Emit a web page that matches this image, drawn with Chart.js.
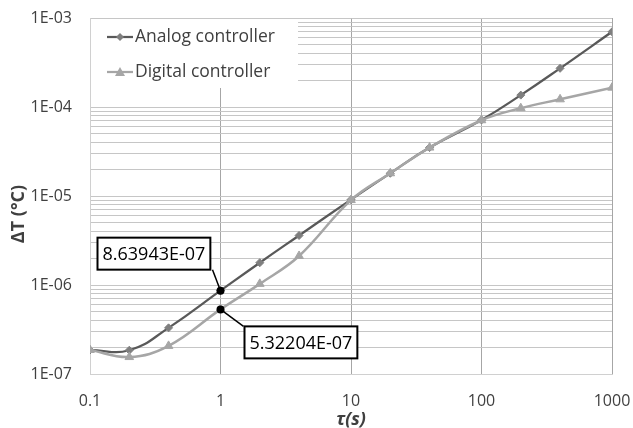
<!DOCTYPE html>
<html>
<head>
<meta charset="utf-8">
<script src="https://cdn.jsdelivr.net/npm/chart.js@4.4.1/dist/chart.umd.min.js"></script>
<style>
  html, body { margin: 0; padding: 0; background: #fff; }
  #wrap { width: 633px; height: 428px; }
</style>
</head>
<body>
<div id="wrap"><canvas id="tauChart"></canvas></div>
<script>
// values (tau in seconds, delta T in degC)
const tau = [0.1, 0.2, 0.4, 1, 2, 4, 10, 20, 40, 100, 200, 400, 1000];
const analog = [1.86e-7, 1.85e-7, 3.3e-7, 8.63943e-7, 1.78e-6, 3.6e-6, 9.1e-6, 1.8e-5, 3.5e-5, 7.15e-5, 1.36e-4, 2.72e-4, 7.0e-4];
const digital = [1.86e-7, 1.55e-7, 2.07e-7, 5.32204e-7, 1.03e-6, 2.12e-6, 9.0e-6, 1.8e-5, 3.5e-5, 7.1e-5, 9.7e-5, 1.22e-4, 1.65e-4];
const seriesNames = ["Analog controller", "Digital controller"];
const xTicks = [0.1, 1, 10, 100, 1000];
const yTicks = [1e-7, 1e-6, 1e-5, 1e-4, 1e-3];
const calloutIndex = 3;

const FONT = "'Open Sans', sans-serif";
const TEXT = "#404040";
const ANALOG_LINE = "#595959";
const ANALOG_MARK = "#7f7f7f";
const DIGITAL = "#a6a6a6";

const isDecade = (v) => {
    const e = Math.log10(v);
    return Math.abs(e - Math.round(e)) < 1e-6;
};
const fmtE = (v) => {
    const e = Math.round(Math.log10(v));
    return "1E" + (e < 0 ? "-" : "+") + String(Math.abs(e)).padStart(2, "0");
};

const toPoints = (ys) => tau.map((t, i) => ({ x: t, y: ys[i] }));

const drawMarker = (ctx, style, x, y, r, color) => {
    ctx.beginPath();
    if (style === "rectRot") {
        ctx.moveTo(x, y - r);
        ctx.lineTo(x + r, y);
        ctx.lineTo(x, y + r);
        ctx.lineTo(x - r, y);
    } else {
        ctx.moveTo(x, y - r);
        ctx.lineTo(x + r, y + r * 0.8);
        ctx.lineTo(x - r, y + r * 0.8);
    }
    ctx.closePath();
    ctx.fillStyle = color;
    ctx.fill();
};

// legend box in the upper left corner of the plot
const legendBox = {
    id: "legendBox",
    afterDraw(chart) {
        const { ctx, chartArea } = chart;
        const x0 = chartArea.left, y0 = chartArea.top;
        ctx.save();
        ctx.fillStyle = "#fff";
        ctx.fillRect(x0 + 1, y0 + 1, 207, 69);
        const rows = [
            { name: seriesNames[0], line: ANALOG_LINE, mark: ANALOG_MARK, style: "rectRot", r: 4 },
            { name: seriesNames[1], line: DIGITAL, mark: DIGITAL, style: "triangle", r: 5 }
        ];
        rows.forEach((row, i) => {
            const y = y0 + 19 + i * 35;
            ctx.strokeStyle = row.line;
            ctx.lineWidth = 2.25;
            ctx.beginPath();
            ctx.moveTo(x0 + 17, y);
            ctx.lineTo(x0 + 43, y);
            ctx.stroke();
            drawMarker(ctx, row.style, x0 + 30, y, row.r, row.mark);
            ctx.fillStyle = TEXT;
            ctx.font = "17.5px " + FONT;
            ctx.textBaseline = "middle";
            ctx.textAlign = "left";
            ctx.fillText(row.name, x0 + 45, y);
        });
        ctx.restore();
    }
};

// callout boxes for the values at tau = 1 s, plus the y axis title
const callouts = {
    id: "callouts",
    afterDraw(chart) {
        const { ctx, scales } = chart;
        const px = scales.x.getPixelForValue(tau[calloutIndex]);
        const items = [
            { v: analog[calloutIndex], dx: -123, dy: -53, lx: -8, ly: -21 },
            { v: digital[calloutIndex], dx: 24, dy: 17, lx: 23, ly: 17 }
        ];
        ctx.save();
        ctx.font = "18px " + FONT;
        items.forEach((it) => {
            const py = scales.y.getPixelForValue(it.v);
            const label = it.v.toExponential(5).toUpperCase().replace(/E([+-])(\d)$/, "E$10$2");
            const w = ctx.measureText(label).width + 10;
            const h = 32;
            ctx.strokeStyle = "#000";
            ctx.lineWidth = 1.5;
            ctx.beginPath();
            ctx.moveTo(px, py);
            ctx.lineTo(px + it.lx, py + it.ly);
            ctx.stroke();
            ctx.fillStyle = "#fff";
            ctx.fillRect(px + it.dx, py + it.dy, w, h);
            ctx.lineWidth = 2;
            ctx.strokeRect(px + it.dx, py + it.dy, w, h);
            ctx.fillStyle = "#000";
            ctx.textAlign = "left";
            ctx.textBaseline = "middle";
            ctx.fillText(label, px + it.dx + 5, py + it.dy + h / 2 + 1);
            ctx.beginPath();
            ctx.arc(px, py, 4, 0, Math.PI * 2);
            ctx.fill();
        });
        // y title, centred a little below the plot middle like the original
        ctx.translate(19, 214);
        ctx.rotate(-Math.PI / 2);
        ctx.font = "bold 18px " + FONT;
        ctx.fillStyle = TEXT;
        ctx.textAlign = "center";
        ctx.textBaseline = "middle";
        ctx.fillText("ΔT (°C)", 0, 0);
        ctx.restore();
    }
};

new Chart(document.getElementById("tauChart"), {
    type: "line",
    data: {
        datasets: [{
            label: seriesNames[0],
            data: toPoints(analog),
            borderColor: ANALOG_LINE,
            borderWidth: 2.25,
            pointStyle: "rectRot",
            pointRadius: 4,
            pointBackgroundColor: ANALOG_MARK,
            pointBorderColor: ANALOG_MARK,
            pointBorderWidth: 1,
            tension: 0.45,
            order: 1
        }, {
            label: seriesNames[1],
            data: toPoints(digital),
            borderColor: DIGITAL,
            borderWidth: 2.5,
            pointStyle: "triangle",
            pointRadius: 5,
            pointBackgroundColor: DIGITAL,
            pointBorderColor: DIGITAL,
            pointBorderWidth: 1,
            tension: 0.4,
            order: 0
        }]
    },
    options: {
        responsive: true,
        maintainAspectRatio: false,
        animation: false,
        events: [],
        layout: { padding: { top: 18, right: 21, left: 0, bottom: 0 } },
        plugins: {
            legend: { display: false },
            tooltip: { enabled: false }
        },
        scales: {
            x: {
                type: "logarithmic",
                min: xTicks[0],
                max: xTicks[xTicks.length - 1],
                afterBuildTicks: (scale) => { scale.ticks = xTicks.map(v => ({ value: v })); },
                afterFit: (scale) => {
                    scale.height = 54;
                    scale.paddingLeft = 0;
                    scale.paddingRight = 0;
                },
                grid: {
                    color: (c) => c.index === 0 ? "#d9d9d9" : "#a6a6a6",
                    drawTicks: false
                },
                border: { color: "#d0d0d0" },
                ticks: {
                    autoSkip: false,
                    maxRotation: 0,
                    padding: 18,
                    color: TEXT,
                    font: { family: FONT, size: 16 },
                    callback: (v) => String(v)
                },
                title: {
                    display: true,
                    text: "τ(s)",
                    color: TEXT,
                    font: { family: FONT, size: 18, weight: "bold", style: "italic" },
                    padding: { top: 0, bottom: -3 }
                }
            },
            y: {
                type: "logarithmic",
                min: yTicks[0],
                max: yTicks[yTicks.length - 1],
                afterBuildTicks: (scale) => {
                    const ticks = [];
                    yTicks.forEach((d, i) => {
                        if (i === yTicks.length - 1) { ticks.push({ value: d }); return; }
                        for (let m = 1; m < 10; m++) ticks.push({ value: m * d });
                    });
                    scale.ticks = ticks;
                },
                afterFit: (scale) => {
                    scale.width = 90;
                    scale.paddingTop = 0;
                    scale.paddingBottom = 0;
                },
                grid: { color: "#c6c6c6", drawTicks: false },
                border: { color: "#d0d0d0" },
                ticks: {
                    autoSkip: false,
                    padding: 18,
                    color: TEXT,
                    font: { family: FONT, size: 16 },
                    callback: (v) => isDecade(v) ? fmtE(v) : ""
                }
            }
        }
    },
    plugins: [legendBox, callouts]
});
</script>
</body>
</html>
